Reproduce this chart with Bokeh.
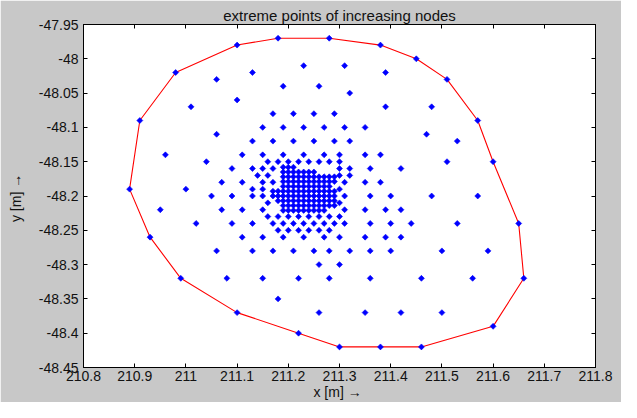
import math
from bokeh.plotting import figure
from bokeh.models import Range1d, LinearAxis, FixedTicker, CustomJSTickFormatter
from bokeh.embed import file_html
from bokeh.resources import INLINE

title_text = "extreme points of increasing nodes"
x_label = "x  [m] →"
y_label = "y  [m] →"

x_ticks = [210.8, 210.9, 211.0, 211.1, 211.2, 211.3, 211.4, 211.5, 211.6, 211.7, 211.8]
y_ticks = [-48.45, -48.4, -48.35, -48.3, -48.25, -48.2, -48.15, -48.1, -48.05, -48.0, -47.95]

# extreme points (convex hull), clockwise from the left
hull_x = [210.89, 210.91, 210.98, 211.10, 211.18, 211.28, 211.38, 211.45, 211.51, 211.57,
          211.60, 211.65, 211.66, 211.60, 211.46, 211.38, 211.30, 211.22, 211.10, 210.99, 210.93]
hull_y = [-48.19, -48.09, -48.02, -47.98, -47.97, -47.97, -47.98, -48.00, -48.03, -48.09,
          -48.15, -48.24, -48.32, -48.39, -48.42, -48.42, -48.42, -48.40, -48.37, -48.32, -48.26]

# sparse nodes, row by row
row_y = [-48.01, -48.02, -48.03, -48.04, -48.05, -48.06, -48.07, -48.08, -48.10, -48.11,
         -48.12, -48.14, -48.15, -48.16, -48.17, -48.18, -48.19, -48.20, -48.21, -48.22,
         -48.23, -48.24, -48.25, -48.26, -48.28, -48.30, -48.32, -48.35, -48.37]
row_x = [
    [211.23, 211.31],
    [211.13, 211.39],
    [211.06],
    [211.19, 211.26],
    [211.32],
    [211.10],
    [211.01, 211.39, 211.48],
    [211.17, 211.21, 211.25, 211.29],
    [211.15, 211.19, 211.23, 211.27, 211.31, 211.35],
    [211.06, 211.47],
    [211.13, 211.17, 211.21, 211.25, 211.29, 211.32, 211.53],
    [210.96, 211.11, 211.15, 211.19, 211.23, 211.27, 211.30, 211.35, 211.38],
    [211.04, 211.16, 211.18, 211.20, 211.22, 211.24, 211.26, 211.28, 211.30, 211.51],
    [211.09, 211.13, 211.15, 211.17, 211.30, 211.32, 211.36, 211.42],
    [211.14, 211.16, 211.30, 211.32],
    [211.07, 211.11, 211.15, 211.17, 211.31, 211.35, 211.38],
    [211.00, 211.13, 211.15, 211.30],
    [211.05, 211.09, 211.13, 211.15, 211.31, 211.36, 211.40, 211.48, 211.57],
    [211.16, 211.30],
    [210.95, 211.07, 211.11, 211.15, 211.31, 211.35, 211.39, 211.42],
    [211.16, 211.18, 211.20, 211.22, 211.24, 211.26, 211.28, 211.30],
    [211.02, 211.09, 211.13, 211.17, 211.19, 211.21, 211.23, 211.25, 211.27, 211.29, 211.31,
     211.36, 211.40, 211.44, 211.53],
    [211.18, 211.20, 211.22, 211.24, 211.26, 211.28],
    [211.11, 211.15, 211.19, 211.23, 211.27, 211.30, 211.35, 211.39, 211.42],
    [211.06, 211.13, 211.17, 211.21, 211.25, 211.28, 211.32, 211.36, 211.40, 211.50, 211.59],
    [211.26, 211.30],
    [211.08, 211.15, 211.22, 211.28, 211.36, 211.46, 211.56],
    [211.18],
    [211.26, 211.35, 211.42, 211.50],
]

# dense core, row by row
core_y = [-48.158, -48.165, -48.172, -48.179, -48.186, -48.193, -48.200, -48.207, -48.214, -48.221]
core_x = [
    [211.19, 211.20, 211.21],
    [211.19, 211.20, 211.21, 211.22, 211.23, 211.24, 211.25],
    [211.19, 211.20, 211.21, 211.22, 211.23, 211.24, 211.25, 211.26, 211.27, 211.28, 211.29],
    [211.19, 211.20, 211.21, 211.22, 211.23, 211.24, 211.25, 211.26, 211.27, 211.28, 211.29],
    [211.19, 211.20, 211.21, 211.22, 211.23, 211.24, 211.25, 211.26, 211.27, 211.28],
    [211.17, 211.18, 211.19, 211.20, 211.21, 211.22, 211.23, 211.24, 211.25, 211.26, 211.27, 211.28, 211.29],
    [211.17, 211.18, 211.19, 211.20, 211.21, 211.22, 211.23, 211.24, 211.25, 211.26, 211.27, 211.28, 211.29],
    [211.18, 211.19, 211.20, 211.21, 211.22, 211.23, 211.24, 211.25, 211.26, 211.27, 211.28, 211.29],
    [211.19, 211.20, 211.21, 211.22, 211.23, 211.24, 211.25, 211.26, 211.27, 211.28, 211.29],
    [211.19, 211.20, 211.21, 211.22, 211.23, 211.24, 211.25, 211.26, 211.27],
]

node_x, node_y = [], []
for yv, xs in zip(row_y + core_y, row_x + core_x):
    for xv in xs:
        node_x.append(xv)
        node_y.append(yv)

FONT = "Liberation Sans"
GRAY = "#c8c8c8"

p = figure(width=621, height=402, output_backend="svg", toolbar_location=None,
           x_range=Range1d(x_ticks[0], x_ticks[-1]), y_range=Range1d(y_ticks[0], y_ticks[-1]),
           min_border_left=83, min_border_right=26, min_border_top=24, min_border_bottom=31,
           background_fill_color="white", border_fill_color=GRAY,
           outline_line_color="black", outline_line_width=1, title=title_text)
p.grid.visible = False

p.title.text_font = FONT
p.title.text_font_size = "15px"
p.title.text_font_style = "normal"
p.title.text_color = "#111111"
p.title.align = "center"
p.title.standoff = 2

xfmt = CustomJSTickFormatter(code="return tick.toFixed(1).replace(/0+$/, '').replace(/\\.$/, '');")
yfmt = CustomJSTickFormatter(code="return tick.toFixed(2).replace(/0+$/, '').replace(/\\.$/, '');")
nofmt = CustomJSTickFormatter(code="return '';")

def style_axis(ax, ticks, fmt, show_labels):
    ax.ticker = FixedTicker(ticks=ticks)
    ax.formatter = fmt
    ax.major_tick_in = 4
    ax.major_tick_out = 0
    ax.minor_tick_in = 0
    ax.minor_tick_out = 0
    ax.axis_line_color = "black"
    ax.major_tick_line_color = "black"
    ax.major_label_text_font = FONT
    ax.major_label_text_color = "#111111"
    ax.axis_label_text_font = FONT
    ax.axis_label_text_font_style = "normal"
    ax.axis_label_text_color = "#111111"
    ax.major_label_text_font_size = "14px"
    ax.axis_label_text_font_size = "14px"
    if not show_labels:
        ax.major_label_standoff = 0

xa = p.xaxis[0]
style_axis(xa, x_ticks, xfmt, True)
xa.axis_label = x_label
xa.major_label_standoff = 3
xa.axis_label_standoff = 0

ya = p.yaxis[0]
style_axis(ya, y_ticks, yfmt, True)
ya.axis_label = y_label
ya.major_label_standoff = 5
ya.axis_label_standoff = 12

top = LinearAxis()
style_axis(top, x_ticks, nofmt, False)
p.add_layout(top, "above")
right = LinearAxis()
style_axis(right, y_ticks, nofmt, False)
p.add_layout(right, "right")

p.line(hull_x + hull_x[:1], hull_y + hull_y[:1], line_color="#ff0000", line_width=1.1)
p.scatter(node_x + hull_x, node_y + hull_y, marker="square", size=4.2, angle=math.pi / 4,
          fill_color="#0000ff", line_color="#0000ff", line_width=0.6)

open("out.html", "w").write(file_html(p, INLINE))
